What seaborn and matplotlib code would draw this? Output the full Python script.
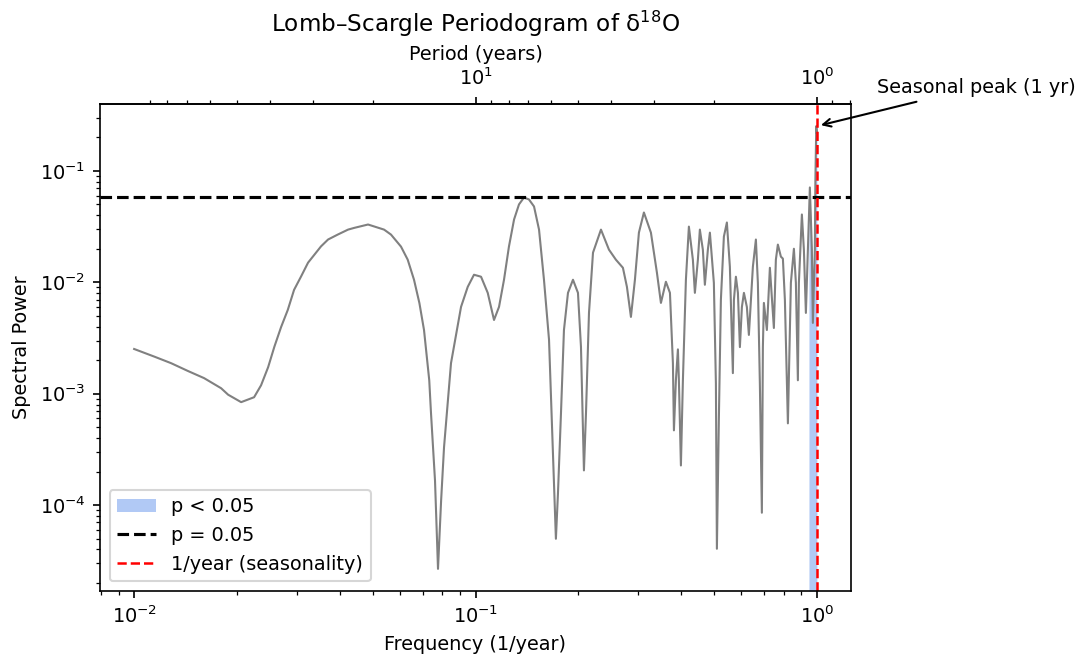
import numpy as np
import pandas as pd
import seaborn as sns
import matplotlib.pyplot as plt

# frequency (1/year) and Lomb-Scargle power
freq = [0.0100, 0.01147, 0.01283, 0.01437, 0.01603, 0.01798, 0.01885, 0.02058, 0.02246, 0.02354,
        0.02469, 0.02575, 0.02695, 0.02819, 0.02941, 0.03083, 0.03232, 0.03527, 0.03699, 0.03948,
        0.04233, 0.04417, 0.04844, 0.05397, 0.05655, 0.06050, 0.0633, 0.06605, 0.0685, 0.07066,
        0.0732, 0.07407, 0.0761, 0.07765, 0.0793, 0.08087, 0.08477, 0.09071, 0.0949, 0.09899,
        0.1038, 0.1086, 0.1133, 0.1172, 0.1212, 0.1253, 0.1297, 0.1341, 0.1387, 0.1434,
        0.1484, 0.1535, 0.1587, 0.1642,
        0.1720, 0.1744, 0.1780, 0.1816, 0.1866, 0.1930, 0.1996,
        0.2037, 0.2078, 0.2107, 0.2150, 0.2209, 0.2331, 0.2460, 0.2578, 0.2703, 0.2777,
        0.2853, 0.2931, 0.3011, 0.3114, 0.3265, 0.3400, 0.3493, 0.3612, 0.3712, 0.3787,
        0.3813, 0.3864, 0.3917, 0.3943, 0.3997, 0.4051, 0.4134, 0.4218, 0.4333, 0.4392,
        0.4482, 0.4542, 0.4635, 0.4698, 0.4794, 0.4860, 0.4992, 0.5061, 0.5095, 0.5164,
        0.5234, 0.5341, 0.5450, 0.5561, 0.5675, 0.5715, 0.5792, 0.5871, 0.5950, 0.6031,
        0.6114, 0.6237, 0.6322, 0.6495, 0.6628, 0.6717, 0.6808, 0.6901, 0.6948, 0.6995,
        0.7138, 0.7284, 0.7483, 0.7584, 0.7687, 0.7845, 0.7952, 0.8060, 0.8225, 0.8393,
        0.8565, 0.8680, 0.8798, 0.8858, 0.9039, 0.9162, 0.9286, 0.9412, 0.9480, 0.9539,
        0.9669, 0.9734, 0.9865, 0.9900, 0.9960, 1.0000]

power = [2.52e-3, 2.15e-3, 1.88e-3, 1.60e-3, 1.38e-3, 1.12e-3, 9.8e-4, 8.4e-4, 9.3e-4, 1.19e-3,
         1.73e-3, 2.64e-3, 3.97e-3, 5.65e-3, 8.55e-3, 0.01127, 0.0150, 0.0210, 0.0242, 0.0268,
         0.0297, 0.0308, 0.0330, 0.0297, 0.0268, 0.0209, 0.01596, 0.01054, 6.5e-3, 3.73e-3,
         1.32e-3, 6.7e-4, 1.66e-4, 2.68e-5, 1.10e-4, 3.30e-4, 1.88e-3, 6.02e-3, 9.1e-3, 0.01169,
         0.01122, 8.04e-3, 4.59e-3, 6.02e-3, 0.01054, 0.0209, 0.0366, 0.0500, 0.0577, 0.0554,
         0.0479, 0.0297, 0.01054, 3.05e-3,
         4.99e-5, 1.27e-4, 6.7e-4, 3.73e-3, 8.04e-3, 0.01054, 8.04e-3,
         2.62e-3, 2.05e-4, 6.7e-4, 5.31e-3, 0.01845, 0.0297, 0.01963, 0.01595, 0.0135, 9.1e-3,
         4.89e-3, 0.01054, 0.0279, 0.0423, 0.0279, 0.01219, 6.53e-3, 0.01011, 8.04e-3, 1.88e-3,
         4.69e-4, 1.32e-3, 2.5e-3, 1.32e-3, 2.27e-4, 1.32e-3, 0.01054, 0.0316, 0.01595, 8.04e-3,
         0.01595, 0.0297, 0.0196, 9.5e-3, 0.0196, 0.0279, 9.9e-3, 1.24e-3, 4.06e-5, 6.14e-4,
         6.96e-3, 0.0257, 0.0344, 0.0138, 1.53e-3, 6.96e-3, 0.01122, 8.04e-3, 2.62e-3, 6.0e-3,
         8.04e-3, 6.0e-3, 3.37e-3, 0.0138, 0.0242, 9.9e-3, 1.24e-3, 8.55e-5, 2.62e-3, 6.53e-3,
         3.73e-3, 0.0135, 3.89e-3, 0.01595, 0.0218, 0.0170, 0.0163, 6.96e-3, 5.42e-4, 9.9e-3,
         0.0200, 9.9e-3, 1.32e-3, 9.9e-3, 0.0406, 0.0196, 5.31e-3, 0.0196, 0.040, 0.0710,
         0.0196, 4.32e-3, 0.0196, 0.080, 0.252, 0.220]

periodTicks = [10, 1]    # labelled periods on the top axis
threshold = 0.058        # power at p = 0.05
sigLow = 0.948           # lower edge of the p < 0.05 band
seasonalFreq = 1.0       # 1/year


def inv(x):
    x = np.asarray(x, dtype=float)
    with np.errstate(divide='ignore'):
        return 1.0 / x


def plotPeriodogram(df, out_file):
    plt.rcParams['font.size'] = 9.25
    fig = plt.figure(figsize=(1079 / 150, 659 / 150), dpi=150)
    ax = fig.add_axes([100 / 1079, 68 / 659, 751 / 1079, 487 / 659])
    ax.set_xscale('log')
    ax.set_yscale('log')

    sns.lineplot(data=df, x='freq', y='power', ax=ax, color='gray',
                 linewidth=1, estimator=None, sort=False)
    ylo, yhi = ax.get_ylim()

    sig = (df['freq'] >= sigLow).to_numpy()
    ax.fill_between(df['freq'], df['power'], ylo, where=sig, color='cornflowerblue',
                    alpha=0.5, linewidth=0, label='p < 0.05')
    ax.axhline(threshold, color='black', linestyle='--', linewidth=1.5, label='p = 0.05')
    ax.axvline(seasonalFreq, color='red', linestyle='--', linewidth=1.2,
               label='1/year (seasonality)')
    ax.set_ylim(ylo, yhi)

    peak = df['power'].max()
    ax.annotate('Seasonal peak (1 yr)', xy=(seasonalFreq, peak),
                xytext=(1.5 * seasonalFreq, 2 * peak),
                arrowprops=dict(arrowstyle='->', color='black'))

    ax.set_xlabel('Frequency (1/year)')
    ax.set_ylabel('Spectral Power')
    secax = ax.secondary_xaxis('top', functions=(inv, inv))
    secax.set_xticks(periodTicks)
    secax.set_xlabel('Period (years)')
    ax.set_title('Lomb–Scargle Periodogram of δ$^{18}$O')
    ax.legend(loc='lower left')

    fig.savefig(out_file, dpi=150)


if __name__ == "__main__":
    df = pd.DataFrame({'freq': freq, 'power': power})
    plotPeriodogram(df, 'out.png')
